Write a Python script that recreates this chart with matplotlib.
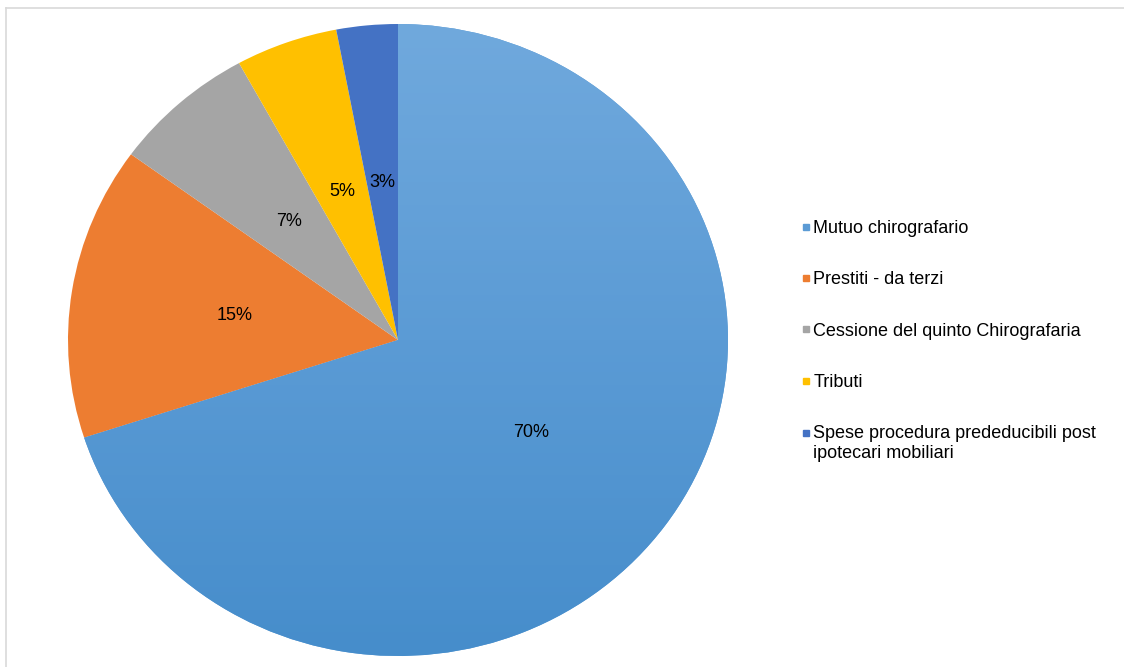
import matplotlib
matplotlib.use("Agg")
import matplotlib.pyplot as plt
import numpy as np
from matplotlib.colors import LinearSegmentedColormap
from matplotlib.lines import Line2D
from matplotlib.legend_handler import HandlerLine2D

plt.rcParams['font.family'] = ['Liberation Sans', 'DejaVu Sans']

categories = ["Mutuo chirografario", "Prestiti - da terzi",
              "Cessione del quinto Chirografaria", "Tributi",
              "Spese procedura prededucibili post\nipotecari mobiliari"]
values = [70, 15, 7, 5, 3]
colors = ["#5b9bd5", "#ed7d31", "#a5a5a5", "#ffc000", "#4472c4"]

W, H = 1124, 667
fig = plt.figure(figsize=(W / 100, H / 100), dpi=100)
fig.patch.set_facecolor("white")

# pie axes: center (398, 340), radii 330 x 316 px (slightly stretched, as in reference)
cx, cy, rx, ry = 398, 340, 330, 316
ax = fig.add_axes([(cx - rx) / W, 1 - (cy + ry) / H, 2 * rx / W, 2 * ry / H])
wedges, texts, autotexts = ax.pie(
    values, colors=colors, startangle=90, counterclock=False,
    autopct=lambda p: f"{p:.0f}%", pctdistance=0.5,
    wedgeprops=dict(linewidth=0),
    textprops=dict(fontsize=13, color="#000000"))
ax.set_xlim(-1, 1)
ax.set_ylim(-1, 1)
ax.set_aspect("auto")
ax.axis("off")

# gradient for first wedge
cmap = LinearSegmentedColormap.from_list("g", ["#468dcb", "#5b9bd5", "#70a9dd"])
grad = np.linspace(0, 1, 256).reshape(-1, 1)
im = ax.imshow(grad, cmap=cmap, extent=[-1, 1, -1, 1], origin="lower",
               aspect="auto", zorder=wedges[0].get_zorder() + 0.1)
im.set_clip_path(wedges[0])
ax.set_aspect("auto")
for t in autotexts:
    t.set_zorder(5)


class OffsetHandler(HandlerLine2D):
    """Places the marker beside the first line of a multi-line label."""
    def __init__(self, dy, **kw):
        super().__init__(**kw)
        self.dy = dy

    def create_artists(self, legend, orig_handle, xdescent, ydescent,
                       width, height, fontsize, trans):
        arts = super().create_artists(legend, orig_handle, xdescent, ydescent,
                                      width, height, fontsize, trans)
        for a in arts:
            a.set_ydata(np.asarray(a.get_ydata(), dtype=float) + self.dy)
        return arts


# legend
handles = [Line2D([0], [0], marker="s", linestyle="none", markersize=4.9,
                  markerfacecolor=c, markeredgecolor=c) for c in colors]
fig.legend(handles, categories, loc="upper left",
           bbox_to_anchor=(800.5 / W, 1 - 220 / H), frameon=False,
           fontsize=13, labelspacing=1.90, handlelength=0.6,
           handletextpad=0.1, borderaxespad=0, borderpad=0,
           handler_map={handles[-1]: OffsetHandler(7.5)})

# outer border lines
fig.add_artist(Line2D([5.5 / W, 1], [1 - 7.5 / H, 1 - 7.5 / H],
                      transform=fig.transFigure, color="#d9d9d9", lw=1.2))
fig.add_artist(Line2D([5.5 / W, 5.5 / W], [0, 1 - 7.5 / H],
                      transform=fig.transFigure, color="#d9d9d9", lw=1.2))

fig.savefig("out.png", dpi=100, facecolor="white")
